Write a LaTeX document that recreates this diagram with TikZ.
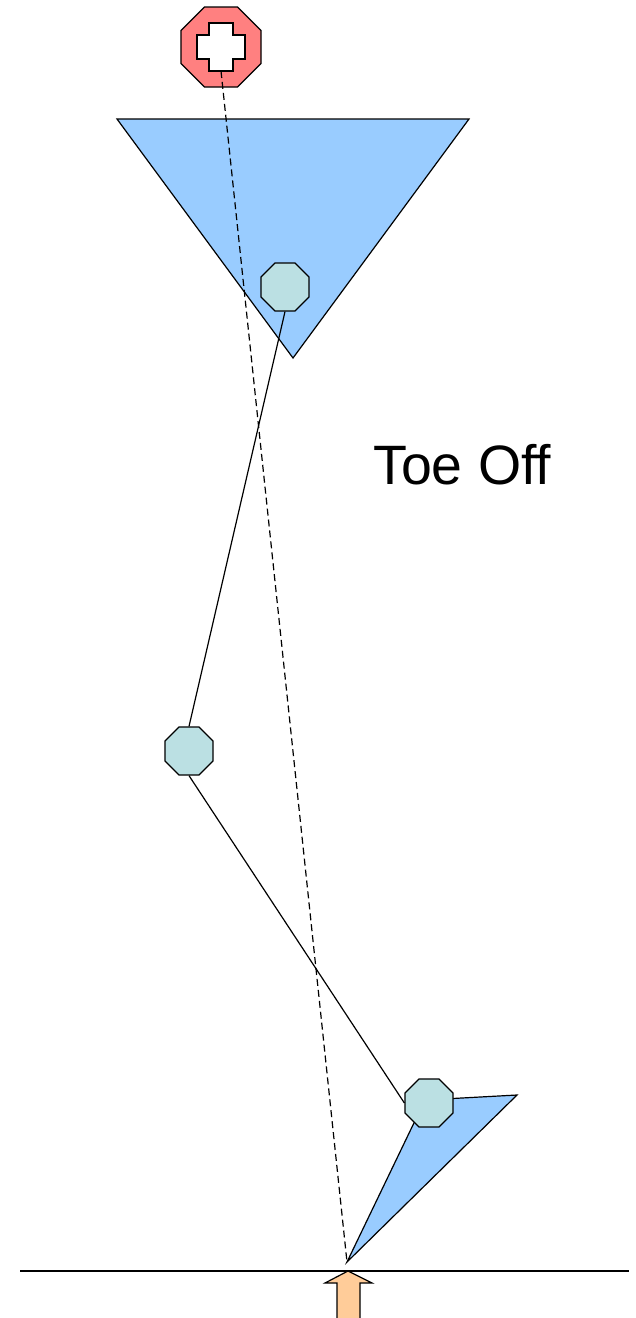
\documentclass[tikz,border=0pt]{standalone}
\usepackage{fontspec}
\setmainfont{Liberation Sans}
\usetikzlibrary{shapes.geometric}
\definecolor{mblue}{HTML}{99CCFF}
\definecolor{mjoint}{HTML}{BBE0E3}
\definecolor{mred}{HTML}{FF8080}
\definecolor{mpeach}{HTML}{FFCC99}
\tikzset{joint/.style = {draw, fill=mjoint, regular polygon, regular polygon sides=8,
                         inner sep=0, minimum size=52pt, line width=1.2pt}}
\tikzset{seg/.style = {line width=1.2pt}}
\tikzset{plate/.style = {draw, fill=mblue, line width=1.2pt, line join=miter}}

\begin{document}
\begin{tikzpicture}[x=1pt, y=-1pt]
      \useasboundingbox (0, 0) rectangle (635, 1318);
      \draw [plate] (117, 119) -- (469, 119) -- (293, 358) -- cycle;
      \draw [plate] (347, 1262) -- (425, 1100) -- (517, 1095) -- cycle;
      \node [joint] (hip) at (285, 287) {};
      \node [joint] (knee) at (189, 751) {};
      \node [joint] (ankle) at (429, 1103) {};
      \draw [seg] (hip.south) -- (knee.north);
      \draw [seg] (knee.south) -- (ankle.west);
      \node [draw, fill=mred, regular polygon, regular polygon sides=8, inner sep=0,
             minimum size=86.6pt, line width=1.2pt] (com) at (221, 47) {};
      \draw [fill=white, line width=1.2pt] (209, 23) -- (233, 23) -- (233, 35) -- (245, 35)
            -- (245, 59) -- (233, 59) -- (233, 71) -- (209, 71) -- (209, 59) -- (197, 59)
            -- (197, 35) -- (209, 35) -- cycle;
      \coordinate (comlow) at (221, 71);
      \coordinate (tip) at (347, 1262);
      \draw [seg, dash pattern=on 7pt off 4pt] (comlow) -- (tip);
      \coordinate (groundL) at (20, 1271);
      \coordinate (groundR) at (629, 1271);
      \draw [seg] (groundL) -- (groundR);
      \draw [fill=mpeach, line width=1.2pt] (348, 1271) -- (372, 1283) -- (360, 1283) -- (360, 1325)
            -- (337, 1325) -- (337, 1283) -- (325, 1283) -- cycle;
      \node [anchor=base west, inner sep=0, font=\fontsize{55.5}{62}\selectfont] (phase) at (373, 484) {Toe Off};
    \end{tikzpicture}
\end{document}
